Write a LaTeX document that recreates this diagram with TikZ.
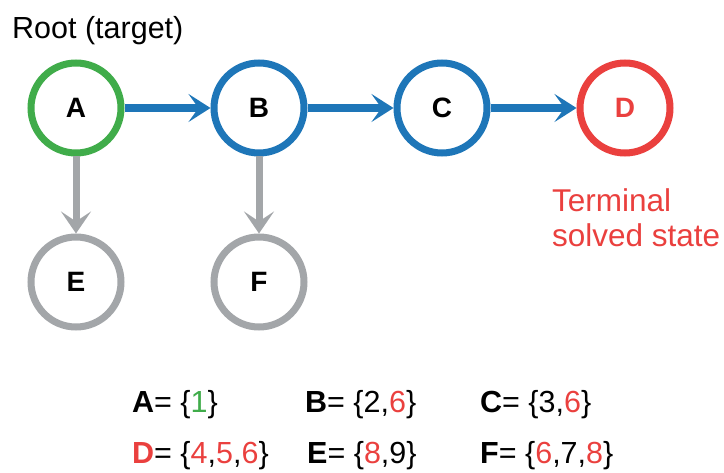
\documentclass[tikz,border=0pt]{standalone}
\usepackage{fontspec}
\setmainfont{Liberation Sans}
\usetikzlibrary{arrows.meta}
\definecolor{cgreen}{RGB}{64,172,74}
\definecolor{cblue}{RGB}{30,118,184}
\definecolor{cred}{RGB}{234,64,62}
\definecolor{cgray}{RGB}{163,166,169}
\tikzset{
  st/.style={circle, line width=7pt, minimum size=90pt, inner sep=0pt, font=\fontsize{28}{32}\selectfont\bfseries},
  bluearr/.style={line width=8pt, cblue, -{Stealth[length=22pt,width=28pt,inset=10pt]}},
  grayarr/.style={line width=7pt, cgray, -{Stealth[length=22pt,width=30pt,inset=10pt]}},
  lbl/.style={font=\fontsize{30.5}{35}\selectfont, anchor=base west, inner sep=0pt},
}
\begin{document}
\begin{tikzpicture}[x=1pt,y=-1pt]
\useasboundingbox (0,0) rectangle (724,473);
\node[st, draw=cgreen] (A) at (76,108) {A};
\node[st, draw=cblue] (B) at (259,108) {B};
\node[st, draw=cblue] (C) at (442,108) {C};
\node[st, draw=cred, text=cred] (D) at (625,108) {D};
\node[st, draw=cgray] (E) at (76,282) {E};
\node[st, draw=cgray] (F) at (259,282) {F};
\draw[bluearr] (A) -- (B);
\draw[bluearr] (B) -- (C);
\draw[bluearr] (C) -- (D);
\draw[grayarr] (A) -- (E);
\draw[grayarr] (B) -- (F);
\node[lbl] (root) at (12,39) {Root (target)};
\node[lbl, font=\fontsize{31.5}{35}\selectfont, text=cred, align=left, anchor=north west] (term) at (552,188) {Terminal\\solved state};
\node[lbl] (la) at (132,413) {\textbf{A}= \{{\color{cgreen}1}\}};
\node[lbl] (lb) at (305,413) {\textbf{B}= \{2,{\color{cred}6}\}};
\node[lbl] (lc) at (480,413) {\textbf{C}= \{3,{\color{cred}6}\}};
\node[lbl] (ld) at (132,464) {{\color{cred}\textbf{D}}= \{{\color{cred}4},{\color{cred}5},{\color{cred}6}\}};
\node[lbl] (le) at (307,464) {\textbf{E}= \{{\color{cred}8},9\}};
\node[lbl] (lf) at (480,464) {\textbf{F}= \{{\color{cred}6},7,{\color{cred}8}\}};
\end{tikzpicture}
\end{document}
